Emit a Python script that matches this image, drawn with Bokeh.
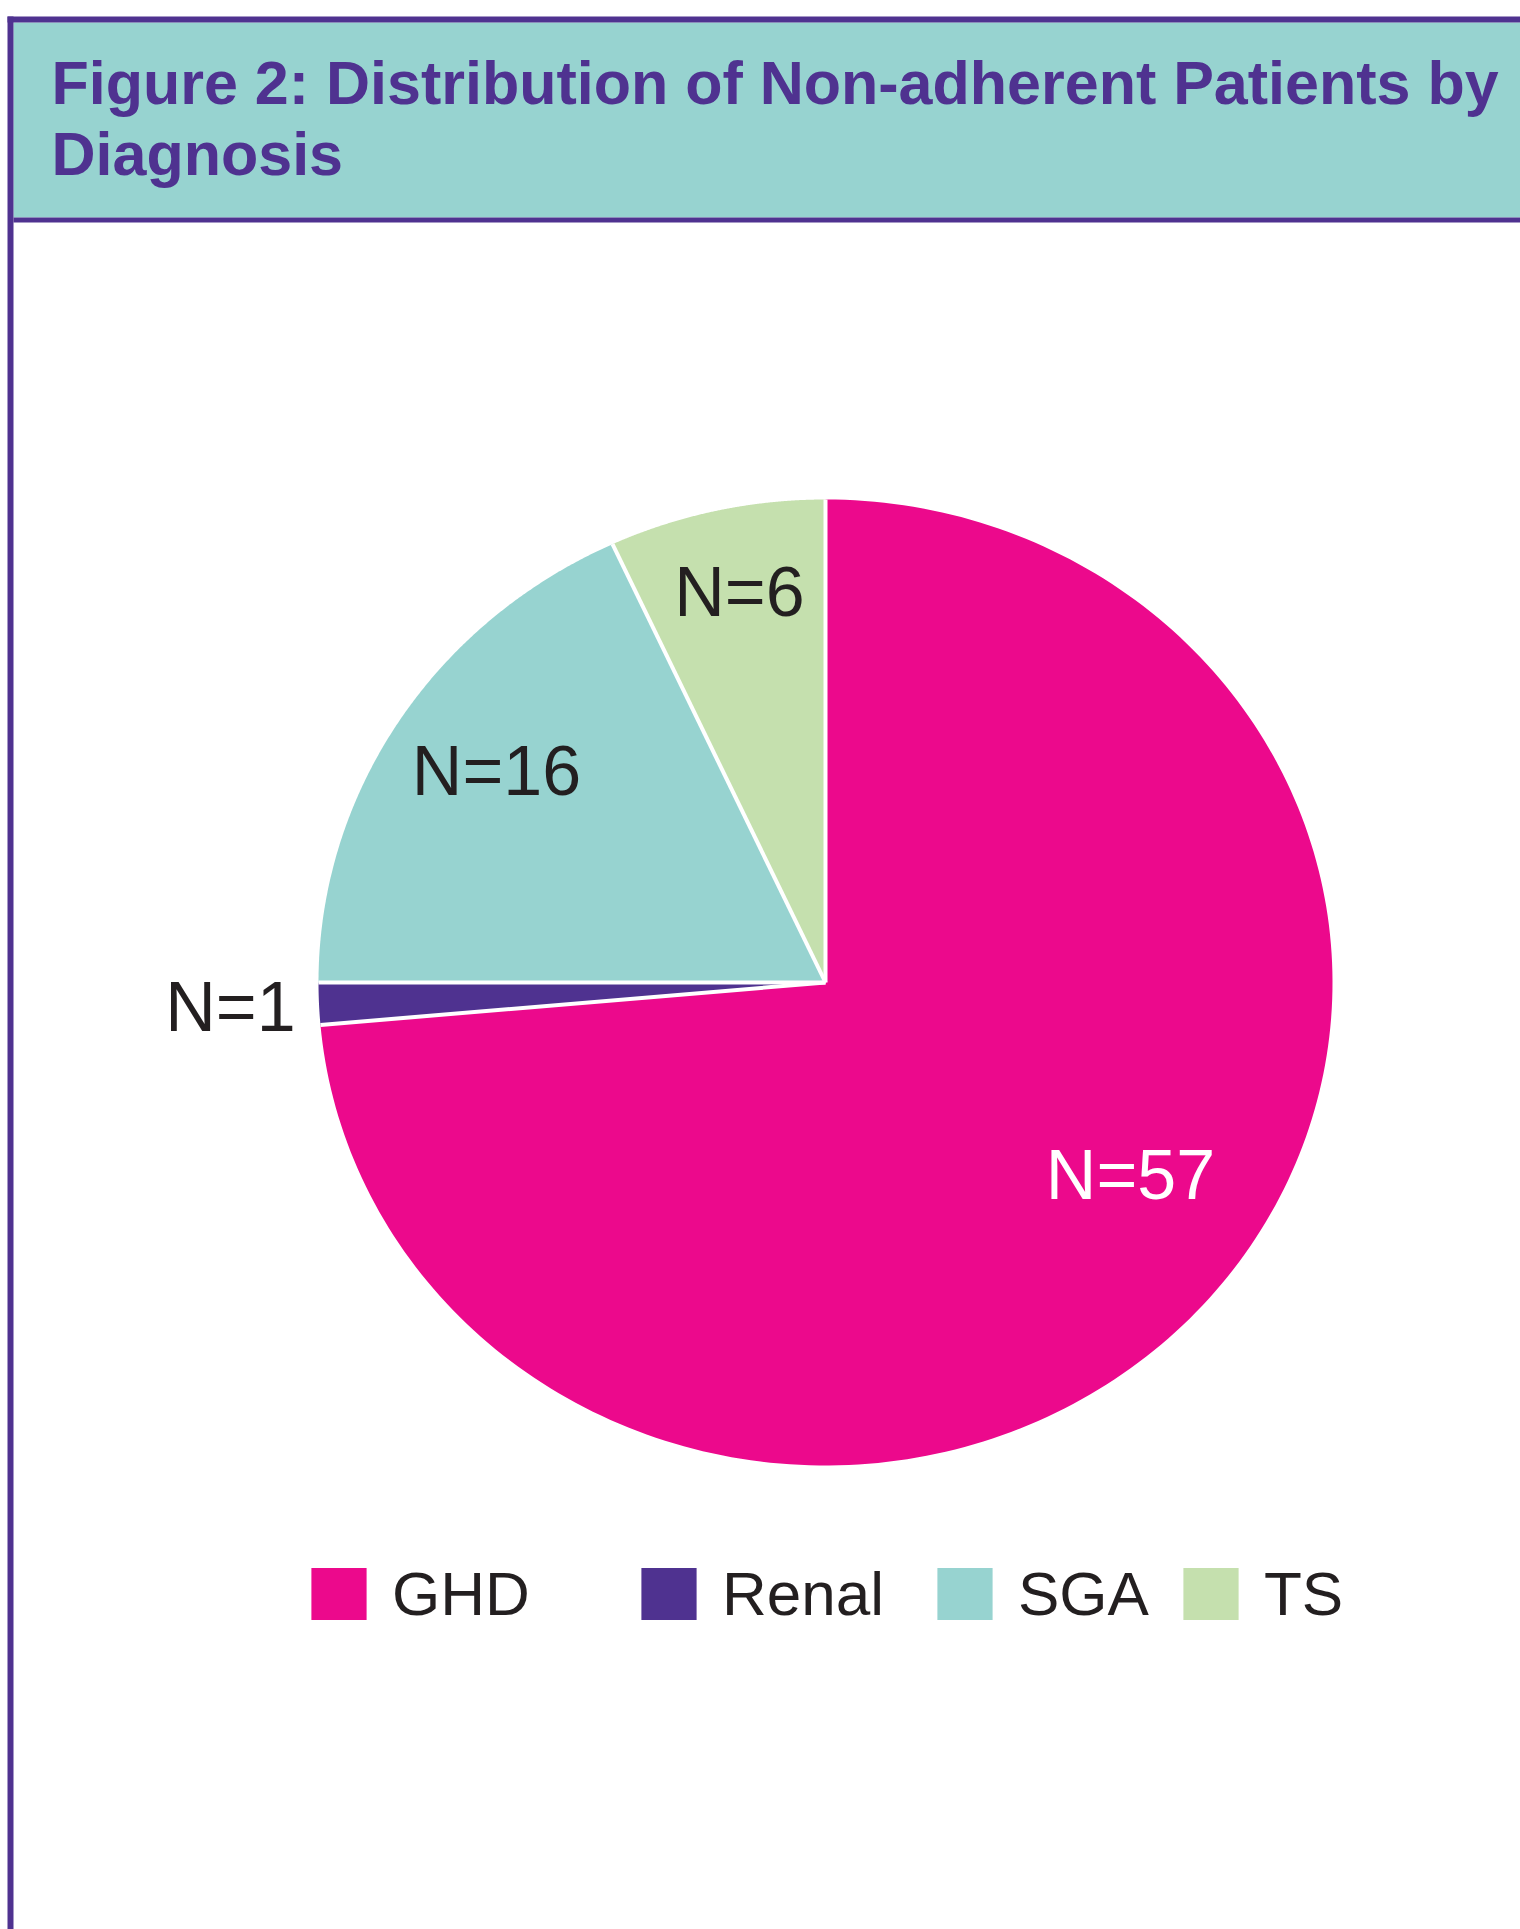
import numpy as np
from bokeh.plotting import figure
from bokeh.models import Range1d, ColumnDataSource, Legend, LegendItem
from bokeh.core.properties import value
from bokeh.embed import file_html
from bokeh.resources import INLINE

# ---------------- data ----------------
title_lines = ["Figure 2: Distribution of Non-adherent Patients by", "Diagnosis"]
categories = ["GHD", "Renal", "SGA", "TS"]
counts = [57, 1, 16, 6]
# slice shares (percent of the circle)
share_pct = [73.6, 1.4, 18.1, 6.9]
colors = ["#EC098C", "#4F3290", "#97D3D0", "#C5E0AE"]
label_colors = ["#FFFFFF", "#231F20", "#231F20", "#231F20"]

# ---------------- layout ----------------
W, H = 1520, 1929
PURPLE = "#4F3290"
TEAL = "#97D3D0"
FONT = "Liberation Sans"

p = figure(width=W, height=H, x_range=Range1d(0, W), y_range=Range1d(H, 0),
           output_backend="svg", toolbar_location=None, min_border=0,
           x_axis_location=None, y_axis_location=None)
p.grid.visible = False
p.outline_line_color = None
p.background_fill_color = "white"
p.border_fill_color = "white"

# header band and frame lines
p.quad(left=13, right=W, top=22, bottom=217, fill_color=TEAL, line_color=None)
p.quad(left=7, right=W, top=16, bottom=22, fill_color=PURPLE, line_color=None)
p.quad(left=7, right=13, top=16, bottom=H, fill_color=PURPLE, line_color=None)
p.quad(left=13, right=W, top=217, bottom=222, fill_color=PURPLE, line_color=None)

p.text(x=[51, 51], y=[82, 153], text=title_lines, text_color=PURPLE,
       text_font=value(FONT), text_font_style="bold", text_font_size="61px",
       text_align="left", text_baseline="alphabetic")

# pie (clockwise from 12 o'clock), slightly elliptical as in the reference
cx, cy, rx, ry = 825, 982, 507, 483
shares = np.array(share_pct, dtype=float)
cum = np.cumsum(shares)
starts = np.radians(90 - (cum - shares) * 3.6)
ends = np.radians(90 - cum * 3.6)
xs, ys = [], []
for a0, a1 in zip(starts, ends):
    t = np.linspace(a0, a1, 240)
    xs.append([cx] + list(cx + rx * np.cos(t)))
    ys.append([cy] + list(cy - ry * np.sin(t)))
src = ColumnDataSource(dict(xs=xs, ys=ys, color=colors, category=categories))
pie = p.patches("xs", "ys", source=src, fill_color="color", line_color=None)

# white separators between slices
p.segment(x0=[cx] * len(starts), y0=[cy] * len(starts),
          x1=list(cx + rx * np.cos(starts)), y1=list(cy - ry * np.sin(starts)),
          line_color="white", line_width=4)

# slice labels
label_x = [1130, 230, 496, 739]
label_y = [1174, 1006, 770, 591]
p.text(x=label_x, y=label_y, text=[f"N={c}" for c in counts], text_color=label_colors,
       text_font=value(FONT), text_font_size="70px",
       text_align="center", text_baseline="alphabetic")

# legend (one entry per category, placed like the reference)
legend_x = [304, 634, 930, 1176]
for i, cat in enumerate(categories):
    leg = Legend(items=[LegendItem(label=value(cat), renderers=[pie], index=i)],
                 location=(legend_x[i], 300), orientation="horizontal",
                 glyph_width=69, glyph_height=65, label_standoff=19,
                 padding=0, margin=0, border_line_color=None,
                 background_fill_alpha=0, label_text_font=FONT,
                 label_text_font_size="62px", label_text_color="#231F20",
                 label_height=65)
    p.add_layout(leg)

open("out.html", "w").write(file_html(p, INLINE))
